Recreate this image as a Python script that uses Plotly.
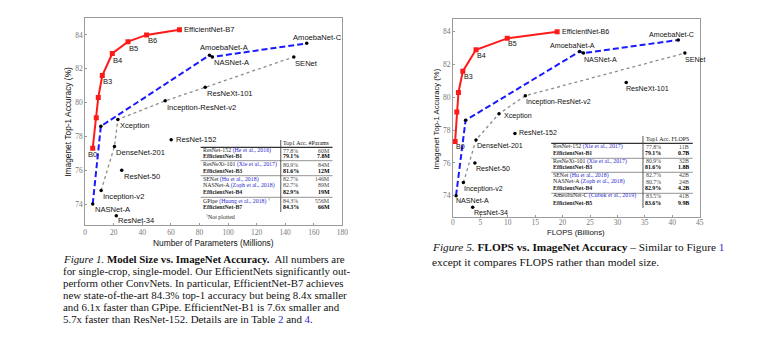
import plotly.graph_objects as go

# ---------------- data ----------------
eff_labels_l = ["B0", "", "", "B3", "B4", "B5", "B6", "EfficientNet-B7"]
eff_params = [5.3, 7.8, 9.2, 12, 19, 30, 43, 66]
eff_acc = [77.3, 79.1, 80.3, 81.6, 82.9, 83.6, 84.0, 84.3]

eff_labels_r = ["B0", "", "", "B3", "B4", "B5", "EfficientNet-B6"]
eff_flops = [0.39, 0.70, 1.0, 1.8, 4.2, 9.9, 19]
eff_acc_r = [77.3, 79.1, 80.3, 81.6, 82.9, 83.6, 84.0]

nas_labels = ["NASNet-A", "", "AmoebaNet-A", "NASNet-A", "AmoebaNet-C"]
nas_params = [5.3, 11, 87, 89, 155]
nas_flops = [0.56, 2.3, 23.1, 23.8, 41.1]
nas_acc = [74.0, 78.6, 82.8, 82.7, 83.5]

dot_labels_l = ["Inception-v2", "DenseNet-201", "Xception", "Inception-ResNet-v2", "ResNeXt-101", "SENet"]
dot_params = [11.2, 20.5, 22.9, 56, 84, 146]
dot_acc_l = [74.8, 77.4, 79.0, 80.1, 80.9, 82.7]

dot_labels_r = ["Inception-v2", "DenseNet-201", "Xception", "Inception-ResNet-v2", "SENet"]
dot_flops = [1.9, 4.2, 8.4, 13.2, 42.3]
dot_acc_r = [74.8, 77.4, 79.0, 80.1, 82.7]

oth_labels_l = ["ResNet-152", "ResNet-50", "ResNet-34"]
oth_params = [60.2, 25.6, 21.8]
oth_acc_l = [77.8, 76.0, 73.3]

oth_labels_r = ["ResNet-152", "ResNet-50", "ResNet-34", "ResNeXt-101"]
oth_flops = [11.3, 4.0, 3.6, 31.6]
oth_acc_r = [77.8, 76.0, 73.3, 80.9]

t1_names = ["ResNet-152", "EfficientNet-B1", "ResNeXt-101", "EfficientNet-B3", "SENet",
            "NASNet-A", "EfficientNet-B4", "GPipe", "EfficientNet-B7"]
t1_cites = ["(He et al., 2016)", "", "(Xie et al., 2017)", "", "(Hu et al., 2018)",
            "(Zoph et al., 2018)", "", "(Huang et al., 2018)", ""]
t1_acc = ["77.8%", "79.1%", "80.9%", "81.6%", "82.7%", "82.7%", "82.9%", "84.3%", "84.3%"]
t1_params = ["60M", "7.8M", "84M", "12M", "146M", "89M", "19M", "556M", "66M"]

t2_names = ["ResNet-152", "EfficientNet-B1", "ResNeXt-101", "EfficientNet-B3", "SENet",
            "NASNet-A", "EfficientNet-B4", "AmeobaNet-C", "EfficientNet-B5"]
t2_cites = ["(Xie et al., 2017)", "", "(Xie et al., 2017)", "", "(Hu et al., 2018)",
            "(Zoph et al., 2018)", "", "(Cubuk et al., 2019)", ""]
t2_acc = ["77.8%", "79.1%", "80.9%", "81.6%", "82.7%", "80.7%", "82.9%", "83.5%", "83.6%"]
t2_flops = ["11B", "0.7B", "32B", "1.8B", "42B", "24B", "4.2B", "41B", "9.9B"]

x_ticks_l = list(range(0, 181, 20))
x_ticks_r = list(range(0, 46, 5))
y_ticks = [74, 76, 78, 80, 82, 84]

cap1_lines = [
    "<i>Figure 1.</i> <b>Model Size vs. ImageNet Accuracy.</b>  All numbers are",
    "for single-crop, single-model. Our EfficientNets significantly out-",
    "perform other ConvNets. In particular, EfficientNet-B7 achieves",
    "new state-of-the-art 84.3% top-1 accuracy but being 8.4x smaller",
    "and 6.1x faster than GPipe. EfficientNet-B1 is 7.6x smaller and",
    "5.7x faster than ResNet-152. Details are in Table <span style='color:#2b2bd0'>2</span> and <span style='color:#2b2bd0'>4</span>.",
]
cap2_lines = [
    "<i>Figure 5.</i> <b>FLOPS vs. ImageNet Accuracy</b> – Similar to Figure <span style='color:#2b2bd0'>1</span>",
    "except it compares FLOPS rather than model size.",
]

# ---------------- style / layout helpers ----------------
W, H = 771, 346
def PX(x): return x / W
def PY(y): return 1 - y / H

SANS = "Liberation Sans, Arial, sans-serif"
SERIF = "Liberation Serif, Times New Roman, serif"
BLUE_CITE = "#2b2bd0"

# label offsets: (xanchor, xshift, yshift)
off_eff_l = [("center", 0, -6), None, None, ("left", -1, -6), ("left", -1, -6.5),
             ("left", -1, -6.5), ("left", -1, -6), ("left", 3, 0)]
off_eff_r = [("left", -1, -5), None, None, ("left", -1, -6), ("left", -1, -6),
             ("left", -1, -6), ("left", 3, 0)]
off_nas_l = [("left", 0, -5), None, ("center", 15, 8), ("left", 0, -6), ("center", 11, 6)]
off_nas_r = [("left", -2, -5), None, ("center", -7, 5), ("left", -1, -6.5), ("center", -7, 5)]
off_dot_l = [("left", 0, -6), ("left", 0, -6), ("left", 0, -6.5), ("left", 0, -6.5),
             ("left", 0, -6.5), ("left", -1, -6.5)]
off_dot_r = [("left", -1, -6.5), ("left", -1, -6), ("left", 3, -2.5), ("left", -1, -6),
             ("left", -2, -6.5)]
off_oth_l = [("left", 3, 0), ("left", 0, -6), ("left", 0, -5)]
off_oth_r = [("left", 2, 0), ("left", -1, -6.5), ("left", -1, -6), ("left", -2, -6.5)]

fig = go.Figure()

def add_panel(xa, ya, dot_x, dot_y, nas_x, eff_x, eff_y, oth_x, oth_y):
    fig.add_trace(go.Scatter(x=dot_x, y=dot_y, mode="lines+markers", xaxis=xa, yaxis=ya,
                             line=dict(color="#8c8c8c", width=1.3, dash="dot"),
                             marker=dict(color="black", size=3.5), showlegend=False))
    fig.add_trace(go.Scatter(x=nas_x, y=nas_acc, mode="lines+markers", xaxis=xa, yaxis=ya,
                             line=dict(color="#1a1aff", width=2, dash="6px,3px"),
                             marker=dict(color="black", size=3.5), showlegend=False))
    fig.add_trace(go.Scatter(x=eff_x, y=eff_y, mode="lines+markers", xaxis=xa, yaxis=ya,
                             line=dict(color="#ff1a1a", width=2),
                             marker=dict(color="#ff1a1a", size=5, symbol="square"), showlegend=False))
    fig.add_trace(go.Scatter(x=oth_x, y=oth_y, mode="markers", xaxis=xa, yaxis=ya,
                             marker=dict(color="black", size=3.5), showlegend=False))

add_panel("x", "y", dot_params, dot_acc_l, nas_params, eff_params, eff_acc, oth_params, oth_acc_l)
add_panel("x2", "y2", dot_flops, dot_acc_r, nas_flops, eff_flops, eff_acc_r, oth_flops, oth_acc_r)

ann = []

def add_labels(labels, xs, ys, offs, xr, yr, size):
    for lab, xv, yv, o in zip(labels, xs, ys, offs):
        if not lab or o is None:
            continue
        xa, xs_, ys_ = o
        ann.append(dict(text=lab, x=xv, y=yv, xref=xr, yref=yr, showarrow=False,
                        xanchor=xa, yanchor="middle", xshift=xs_, yshift=ys_,
                        font=dict(family=SANS, size=size, color="#111")))

add_labels(eff_labels_l, eff_params, eff_acc, off_eff_l, "x", "y", 7.6)
add_labels(nas_labels, nas_params, nas_acc, off_nas_l, "x", "y", 7.6)
add_labels(dot_labels_l, dot_params, dot_acc_l, off_dot_l, "x", "y", 7.6)
add_labels(oth_labels_l, oth_params, oth_acc_l, off_oth_l, "x", "y", 7.6)

add_labels(eff_labels_r, eff_flops, eff_acc_r, off_eff_r, "x2", "y2", 7.1)
add_labels(nas_labels, nas_flops, nas_acc, off_nas_r, "x2", "y2", 7.1)
add_labels(dot_labels_r, dot_flops, dot_acc_r, off_dot_r, "x2", "y2", 7.1)
add_labels(oth_labels_r, oth_flops, oth_acc_r, off_oth_r, "x2", "y2", 7.1)

def ptext(text, x, y, size, family=SANS, xanchor="center", color="#111", angle=0):
    ann.append(dict(text=text, x=PX(x), y=PY(y), xref="paper", yref="paper", showarrow=False,
                    xanchor=xanchor, yanchor="middle", textangle=angle,
                    font=dict(family=family, size=size, color=color)))

# axis titles
ptext("Number of Parameters (Millions)", 214, 242.5, 8.4)
ptext("Imagenet Top-1 Accuracy (%)", 66.5, 122, 8.4, angle=-90)
ptext("FLOPS (Billions)", 580, 232.5, 7.8)
ptext("Imagenet Top-1 Accuracy (%)", 439, 119, 7.7, angle=-90)

shapes = []

def hline(x0, x1, y, w=0.8, c="#555"):
    shapes.append(dict(type="line", xref="paper", yref="paper", x0=PX(x0), x1=PX(x1),
                       y0=PY(y), y1=PY(y), line=dict(color=c, width=w)))

def vline(x, y0, y1, w=0.8, c="#555"):
    shapes.append(dict(type="line", xref="paper", yref="paper", x0=PX(x), x1=PX(x),
                       y0=PY(y0), y1=PY(y1), line=dict(color=c, width=w)))

TS = 5.9
def table(names, cites, accs, vals, header2, xl, xsep, xacc, xval, xr, yhead, rows, lines, ytop, ybot, dagger_row=None):
    ptext("Top1 Acc. " + header2, xval, yhead, TS, family=SERIF, xanchor="right")
    hline(xl, xr, lines[0], w=1.2, c="#333")
    for y in lines[1:]:
        hline(xl, xr, y, w=0.8, c="#777")
    vline(xsep, ytop, ybot, w=0.9, c="#444")
    for i, (n, c, a, v) in enumerate(zip(names, cites, accs, vals)):
        bold = n.startswith("EfficientNet")
        if bold:
            t = "<b>" + n + "</b>"
            ta, tv = "<b>" + a + "</b>", "<b>" + v + "</b>"
            col = "#000"
        else:
            t = n + " <span style='color:%s'>%s</span>" % (BLUE_CITE, c)
            if dagger_row == i:
                t += " <sup>†</sup>"
            ta, tv = a, v
            col = "#444"
        ptext(t, xl, rows[i], TS, family=SERIF, xanchor="left", color="#222")
        ptext(ta, xacc, rows[i], TS, family=SERIF, xanchor="center", color=col)
        ptext(tv, xval, rows[i], TS, family=SERIF, xanchor="right", color=col)

table(t1_names, t1_cites, t1_acc, t1_params, "#Params",
      200.7, 281.7, 292, 333.5, 334, 143.3,
      [150.7, 155.7, 164.7, 171, 179, 185.3, 191.7, 200.7, 207.3],
      [147.3, 160.7, 175.7, 197.3], 140, 212, dagger_row=7)
ptext("<sup>†</sup>Not plotted", 204, 216, TS, family=SERIF, xanchor="left", color="#222")

table(t2_names, t2_cites, t2_acc, t2_flops, "FLOPS",
      555, 647.7, 658, 696, 698, 139,
      [146.7, 153.3, 161, 167.3, 175, 181.7, 188.3, 195.7, 203.3],
      [143.3, 158.3, 172.3, 193.3], 136, 208)

# captions
for i, line in enumerate(cap1_lines):
    ptext(line, 60, 259.3 + 12 * i, 10.9, family=SERIF, xanchor="left", color="#111")
for i, line in enumerate(cap2_lines):
    ptext(line, 432, 247.3 + 14.4 * i, 11.3, family=SERIF, xanchor="left", color="#111")

axis_common = dict(showgrid=False, zeroline=False, showline=True, mirror=True,
                   linecolor="#9a9a9a", linewidth=1, ticks="inside", ticklen=2,
                   tickcolor="#9a9a9a", tickfont=dict(family=SERIF, size=7.5, color="#777"))

fig.update_layout(
    width=W, height=H, margin=dict(l=0, r=0, t=0, b=0),
    paper_bgcolor="white", plot_bgcolor="white",
    xaxis=dict(domain=[PX(84), PX(344)], range=[0, 180], tickvals=x_ticks_l, anchor="y", **axis_common),
    yaxis=dict(domain=[PY(225), PY(18)], range=[72.76, 85.0], tickvals=y_ticks, anchor="x", **axis_common),
    xaxis2=dict(domain=[PX(455.7), PX(705)], range=[0, 45], tickvals=x_ticks_r, anchor="y2",
                ticklabelstandoff=-2, **axis_common),
    yaxis2=dict(domain=[PY(217), PY(18.7)], range=[72.7, 84.8], tickvals=y_ticks, anchor="x2", **axis_common),
    annotations=ann, shapes=shapes,
)

fig.write_html("out.html")
